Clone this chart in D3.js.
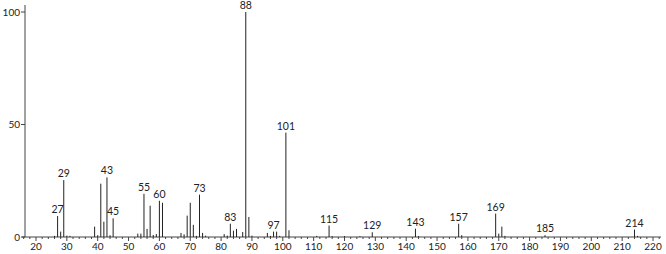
<!DOCTYPE html>
<html>
<head>
<meta charset="utf-8">
<script src="https://cdn.jsdelivr.net/npm/d3@7"></script>
<style>
  body { margin: 0; background: #fff; }
  svg { display: block; }
  text { font-family: Lato, "Noto Sans", sans-serif; fill: #222; }
</style>
</head>
<body>
<div id="chart"></div>
<script>
// mass spectrum: m/z and relative intensity
const mz = [26,27,28,29,30,31,39,40,41,42,43,44,45,53,54,55,56,57,58,59,60,61,67,68,69,70,71,72,73,74,75,
            81,82,83,84,85,87,88,89,90,95,96,97,98,99,101,102,111,115,116,120,125,129,143,144,
            157,158,169,170,171,172,185,214,215];
const intensity = [0.5,9.3,2.4,25.3,0.6,0.5,4.6,0.8,23.7,6.8,26.5,0.8,8.3,1.5,1.5,19.2,3.6,13.9,0.9,1.3,16.1,15.2,1.8,1.2,9.5,15.2,5.4,0.5,18.8,1.8,0.6,
                   1.3,0.6,5.9,2.8,3.6,2.2,100,8.9,0.6,1.8,0.5,2.4,2.4,0.5,46.4,3.0,0.5,5.1,0.4,0.4,0.4,2.1,3.7,0.4,
                   5.9,0.8,10.4,1.5,4.6,0.5,0.8,3.3,0.5];
const labelled = [27,29,43,45,55,60,73,83,88,97,101,115,129,143,157,169,185,214];
const xTicks = d3.range(20, 221, 10);
const yTicks = [0, 50, 100];

const width = 666, height = 254;

const svg = d3.select("#chart").append("svg")
    .attr("width", width)
    .attr("height", height);

// 20 -> 36px, 220 -> 653px
let x = d3.scaleLinear().domain([20, 220]).range([36, 653]);
let y = d3.scaleLinear().domain([0, 100]).range([237, 12]);

const peaks = mz.map((m, i) => ({ m: m, v: intensity[i] }));

// x axis: minor ticks every 2, labels every 10
svg.append("line")
    .attr("x1", 22).attr("x2", 661)
    .attr("y1", y(0)).attr("y2", y(0))
    .attr("stroke", "#444");

svg.append("g")
    .selectAll("line")
    .data(d3.range(16, 223, 2))
    .enter()
    .append("line")
    .attr("x1", d => x(d)).attr("x2", d => x(d))
    .attr("y1", y(0))
    .attr("y2", d => y(0) + (d % 10 === 0 ? 4 : 2))
    .attr("stroke", "#444");

svg.append("g")
    .selectAll("text")
    .data(xTicks)
    .enter()
    .append("text")
    .attr("x", d => x(d))
    .attr("y", 250)
    .attr("text-anchor", "middle")
    .attr("font-size", 10)
    .text(d => d);

// y axis
svg.append("line")
    .attr("x1", 25).attr("x2", 25)
    .attr("y1", 5).attr("y2", y(0))
    .attr("stroke", "#444");

const yAxis = svg.append("g");
yAxis.selectAll("line")
    .data(yTicks)
    .enter()
    .append("line")
    .attr("x1", 21).attr("x2", 25)
    .attr("y1", d => y(d)).attr("y2", d => y(d))
    .attr("stroke", "#444");
yAxis.selectAll("text")
    .data(yTicks)
    .enter()
    .append("text")
    .attr("x", 20)
    .attr("y", d => y(d) + 3.5)
    .attr("text-anchor", "end")
    .attr("font-size", 10)
    .text(d => d);

// peaks
svg.append("g")
    .selectAll("line")
    .data(peaks)
    .enter()
    .append("line")
    .attr("x1", d => x(d.m)).attr("x2", d => x(d.m))
    .attr("y1", y(0))
    .attr("y2", d => y(d.v))
    .attr("stroke", "#222")
    .attr("stroke-width", 1);

// peak labels
svg.append("g")
    .selectAll("text")
    .data(peaks.filter(d => labelled.includes(d.m)))
    .enter()
    .append("text")
    .attr("x", d => x(d.m))
    .attr("y", d => y(d.v) - 3)
    .attr("text-anchor", "middle")
    .attr("font-size", 10.5)
    .text(d => d.m);
</script>
</body>
</html>
